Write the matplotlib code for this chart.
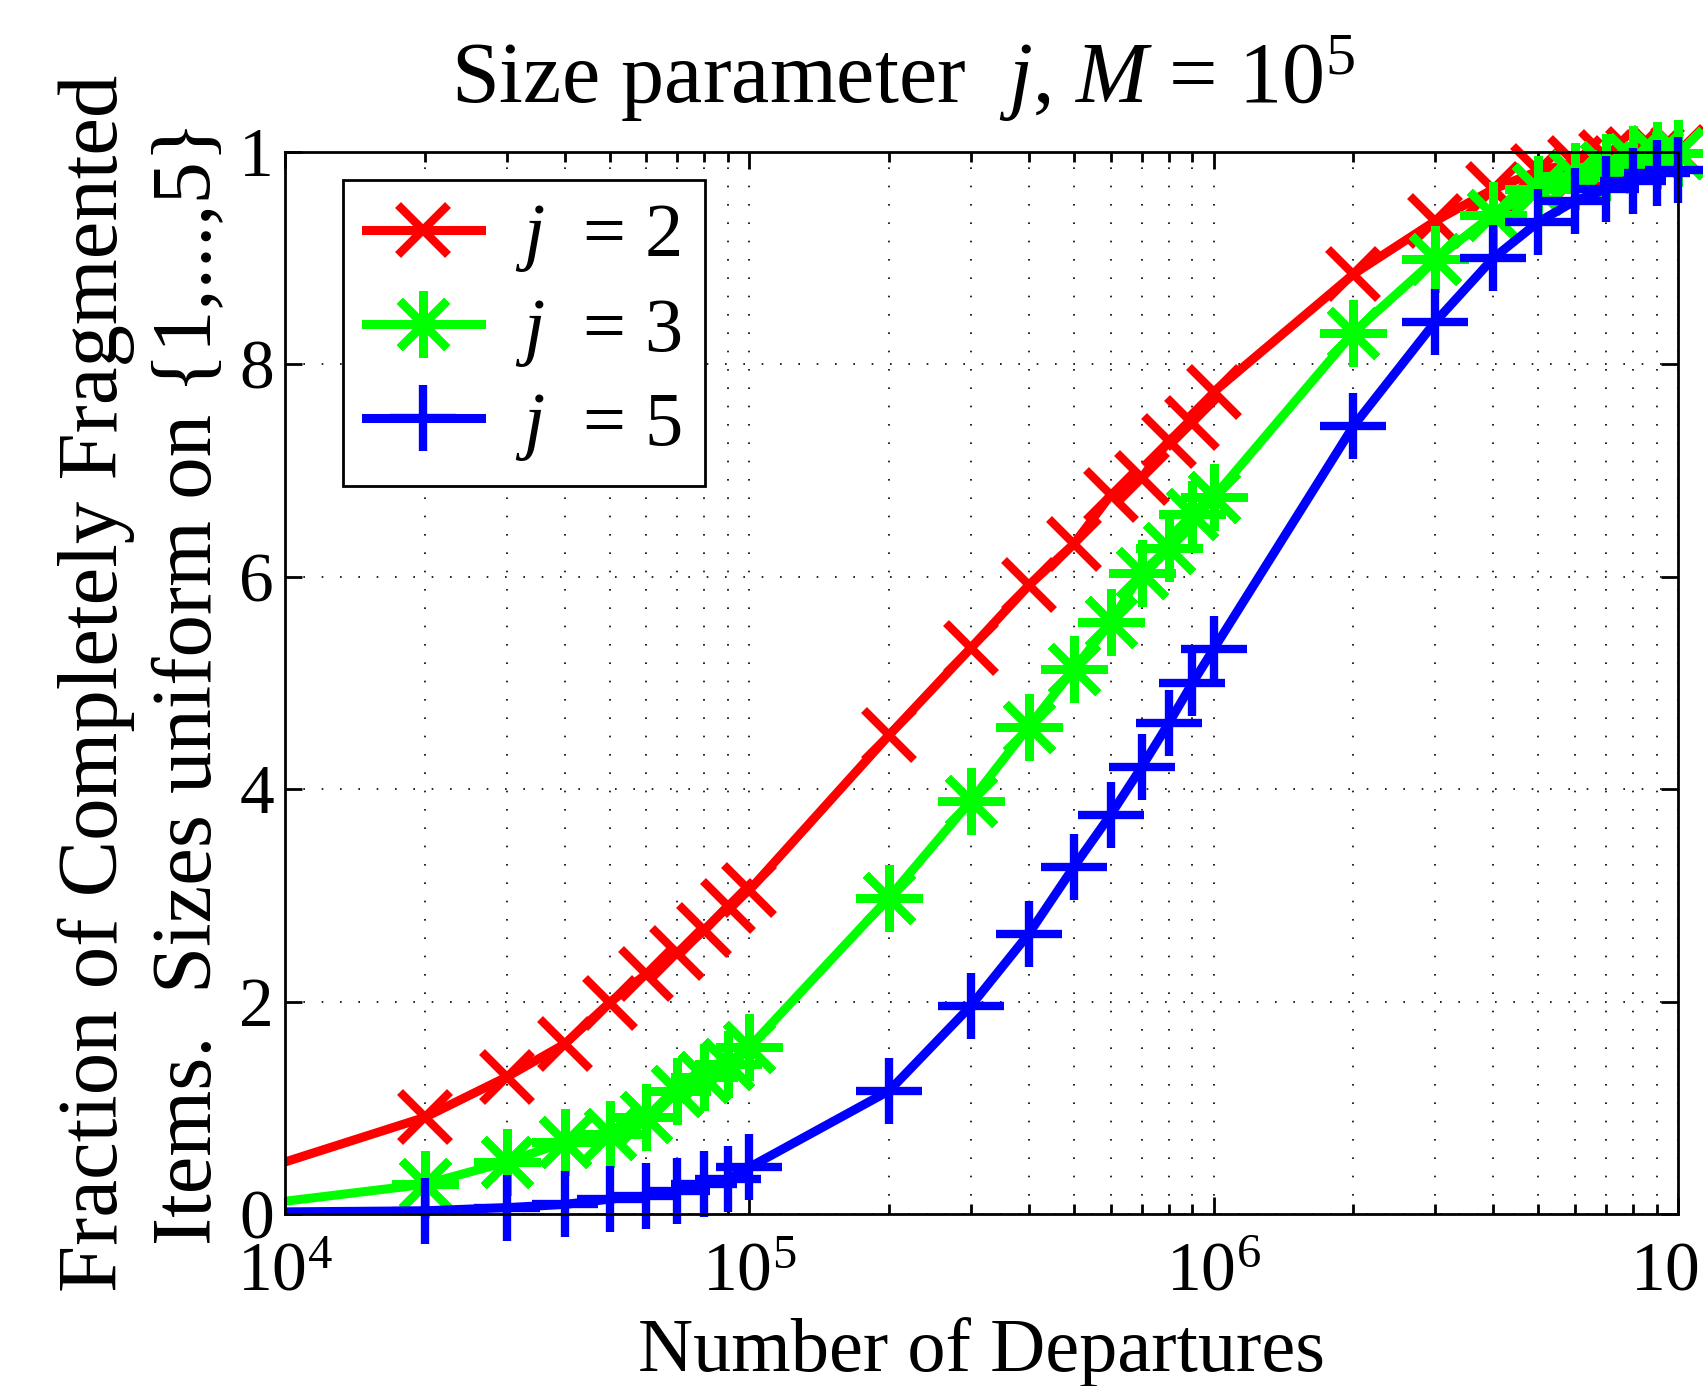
import matplotlib
matplotlib.use("Agg")
import matplotlib.pyplot as plt
from matplotlib.ticker import LogLocator, NullFormatter

plt.rcParams['font.family'] = ['Liberation Serif', 'DejaVu Serif']
plt.rcParams['mathtext.fontset'] = 'custom'
plt.rcParams['mathtext.rm'] = 'Liberation Serif'
plt.rcParams['mathtext.it'] = 'Liberation Serif:italic'

# data
departures = [1e4, 2e4, 3e4, 4e4, 5e4, 6e4, 7e4, 8e4, 9e4,
              1e5, 2e5, 3e5, 4e5, 5e5, 6e5, 7e5, 8e5, 9e5,
              1e6, 2e6, 3e6, 4e6, 5e6, 6e6, 7e6, 8e6, 9e6, 1e7]
frac_j2 = [0.049, 0.091, 0.129, 0.160, 0.199, 0.226, 0.246, 0.267, 0.290,
           0.305, 0.451, 0.533, 0.592, 0.631, 0.677, 0.693, 0.728, 0.745,
           0.774, 0.885, 0.935, 0.965, 0.982, 0.990, 0.995, 0.998, 0.999, 1.0]
frac_j3 = [0.012, 0.028, 0.049, 0.0675, 0.075, 0.091, 0.116, 0.129, 0.141,
           0.157, 0.298, 0.389, 0.459, 0.513, 0.557, 0.604, 0.627, 0.659,
           0.675, 0.830, 0.899, 0.941, 0.965, 0.977, 0.986, 0.993, 0.997, 0.999]
frac_j5 = [0.002, 0.003, 0.006, 0.009, 0.014, 0.017, 0.022, 0.028, 0.033,
           0.044, 0.116, 0.196, 0.264, 0.327, 0.376, 0.421, 0.462, 0.500,
           0.532, 0.742, 0.840, 0.900, 0.934, 0.954, 0.965, 0.973, 0.980, 0.983]
series = [(frac_j2, '$j$  = 2', (1, 0, 0), 'x', 36),
          (frac_j3, '$j$  = 3', (0, 1, 0), (8, 2, 0), 48),
          (frac_j5, '$j$  = 5', (0, 0, 1), '+', 48)]
yticks = [0, 0.2, 0.4, 0.6, 0.8, 1.0]
ytick_labels = ['0', '2', '4', '6', '8', '1']

fig = plt.figure(figsize=(17.03, 13.86), dpi=100)
ax = fig.add_axes([0.1674, 0.1241, 0.8179, 0.7662])

for ys, lab, col, mk, ms in series:
    # first segment has no marker at 10^4
    ax.plot(departures[:2], ys[:2], color=col, lw=6.5, solid_capstyle='butt')
    ax.plot(departures[1:], ys[1:], color=col, lw=6.5, marker=mk, ms=ms, mew=6,
            label=lab, clip_on=False, solid_joinstyle='round')

ax.set_xscale('log')
ax.set_xlim(1e4, 1e7)
ax.set_ylim(0, 1)
ax.set_yticks(yticks)
ax.set_yticklabels(ytick_labels)
ax.xaxis.set_minor_locator(LogLocator(base=10, subs=range(2, 10)))
ax.xaxis.set_minor_formatter(NullFormatter())

ax.tick_params(which='both', direction='in', top=True, right=True, width=2)
ax.tick_params(which='major', length=12, labelsize=50)
ax.tick_params(which='minor', length=7)
ax.tick_params(axis='x', which='major', pad=20)
ax.tick_params(axis='y', which='major', pad=8)
for s in ax.spines.values():
    s.set_linewidth(2)

dot = (0, (1, 10))
ax.grid(True, which='major', axis='both', color='black', lw=1.2, linestyle=dot)
ax.grid(True, which='minor', axis='x', color='black', lw=1.2, linestyle=dot)
ax.set_axisbelow(True)

ax.set_xlabel('Number of Departures', fontsize=55)
ax.xaxis.set_label_coords(0.5, -0.097)
ax.set_ylabel('Fraction of Completely Fragmented\nItems.  Sizes uniform on {1,...,5}',
              fontsize=61, linespacing=1.3)
ax.yaxis.set_label_coords(-0.04, 0.5)

fig.text(0.53, 1 - 103 / 1386, r'Size parameter  $j$, $M$ = 10$^5$',
         fontsize=62, ha='center', va='baseline')

leg = ax.legend(loc='upper left', bbox_to_anchor=(343 / 1703, 1 - 180 / 1386),
                bbox_transform=fig.transFigure, fontsize=55, frameon=True,
                fancybox=False, framealpha=1, edgecolor='black',
                handlelength=1.5, handletextpad=0.45, labelspacing=0.3,
                borderpad=0.3, borderaxespad=0)
leg.get_frame().set_linewidth(2)

fig.savefig('out.png', dpi=100)
